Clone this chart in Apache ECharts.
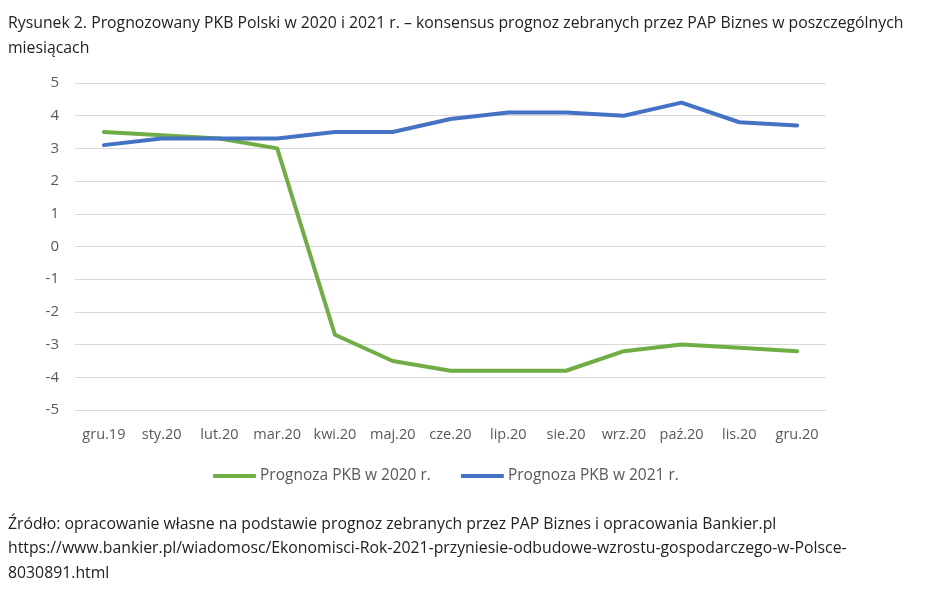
<!DOCTYPE html>
<html>
<head>
<meta charset="utf-8">
<script src="https://cdn.jsdelivr.net/npm/echarts@6/dist/echarts.min.js"></script>
<style>
  html, body { margin: 0; padding: 0; background: #fff; }
  #main { width: 943px; height: 597px; }
</style>
</head>
<body>
<div id="main"></div>
<script type="text/javascript">
    // dane
    var miesiace = ['gru.19', 'sty.20', 'lut.20', 'mar.20', 'kwi.20', 'maj.20', 'cze.20',
        'lip.20', 'sie.20', 'wrz.20', 'paź.20', 'lis.20', 'gru.20'];
    var pkb2020 = [3.5, 3.4, 3.3, 3.0, -2.7, -3.5, -3.8, -3.8, -3.8, -3.2, -3.0, -3.1, -3.2];
    var pkb2021 = [3.1, 3.3, 3.3, 3.3, 3.5, 3.5, 3.9, 4.1, 4.1, 4.0, 4.4, 3.8, 3.7];
    var nazwy = ['Prognoza PKB w 2020 r.', 'Prognoza PKB w 2021 r.'];

    var font = 'Open Sans';
    var myChart = echarts.init(document.getElementById('main'));
    myChart.setOption({
        animation: false,
        textStyle: { fontFamily: font },
        graphic: [
            {
                type: 'text', left: 8, top: 11,
                style: {
                    text: 'Rysunek 2. Prognozowany PKB Polski w 2020 i 2021 r. – konsensus prognoz zebranych przez PAP Biznes w poszczególnych\nmiesiącach',
                    font: '15.8px "' + font + '"', fill: '#222', lineHeight: 25
                }
            },
            {
                type: 'text', left: 8, top: 512,
                style: {
                    text: 'Źródło: opracowanie własne na podstawie prognoz zebranych przez PAP Biznes i opracowania Bankier.pl\nhttps://www.bankier.pl/wiadomosc/Ekonomisci-Rok-2021-przyniesie-odbudowe-wzrostu-gospodarczego-w-Polsce-\n8030891.html',
                    font: '15.8px "' + font + '"', fill: '#222', lineHeight: 24.5
                }
            }
        ],
        legend: {
            top: 463,
            left: 208,
            itemWidth: 43,
            itemHeight: 4,
            itemGap: 30,
            icon: 'roundRect',
            textStyle: { color: '#595959', fontSize: 15.5, fontFamily: font, padding: [0, 0, 0, -1] },
            data: nazwy
        },
        grid: {
            left: 75,
            right: 117,
            top: 83,
            bottom: 187
        },
        xAxis: {
            type: 'category',
            boundaryGap: true,
            data: miesiace,
            axisLine: { show: false },
            axisTick: { show: false },
            axisLabel: { color: '#595959', fontSize: 14.5, margin: 17, interval: 0 }
        },
        yAxis: {
            type: 'value',
            min: -5,
            max: 5,
            interval: 1,
            axisLabel: { color: '#595959', fontSize: 15, margin: 16 },
            splitLine: { lineStyle: { color: '#d9d9d9', width: 1 } }
        },
        series: [
            {
                name: nazwy[0],
                type: 'line',
                data: pkb2020,
                symbol: 'none',
                color: '#70AD47',
                lineStyle: { width: 4, cap: 'round', join: 'round' }
            },
            {
                name: nazwy[1],
                type: 'line',
                data: pkb2021,
                symbol: 'none',
                color: '#4472C4',
                lineStyle: { width: 4, cap: 'round', join: 'round' }
            }
        ]
    });
</script>
</body>
</html>
